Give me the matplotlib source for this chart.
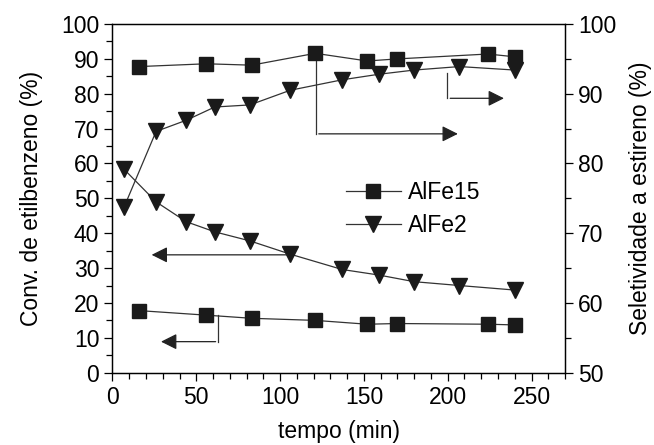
import matplotlib
matplotlib.use("Agg")
import matplotlib.pyplot as plt
from matplotlib.ticker import MultipleLocator

plt.rcParams["font.family"] = ["Liberation Sans", "DejaVu Sans"]

# AlFe15 (squares)
t_alfe15 = [16, 56, 83, 121, 152, 170, 224, 240]
conv_alfe15 = [17.8, 16.5, 15.6, 15.0, 13.9, 14.1, 13.9, 13.7]
sel_alfe15 = [93.9, 94.3, 94.1, 95.8, 94.7, 95.0, 95.7, 95.3]

# AlFe2 (triangles)
t_alfe2 = [7, 26, 44, 61, 82, 106, 137, 159, 180, 207, 240]
conv_alfe2 = [58.3, 49.0, 43.3, 40.4, 37.8, 34.0, 29.6, 28.0, 26.1, 25.0, 23.7]
sel_alfe2 = [73.8, 84.6, 86.2, 88.1, 88.4, 90.5, 92.0, 92.8, 93.4, 93.9, 93.4]

fig = plt.figure(figsize=(6.54, 4.45), dpi=100)
ax = fig.add_axes([0.172, 0.1625, 0.692, 0.7835])
ax2 = ax.twinx()

line_kw = dict(color="#333333", linewidth=0.9, markerfacecolor="#1a1a1a",
               markeredgecolor="#1a1a1a")
ax.plot(t_alfe15, conv_alfe15, marker="s", markersize=10, **line_kw)
ax.plot(t_alfe2, conv_alfe2, marker="v", markersize=12, **line_kw)
ax2.plot(t_alfe15, sel_alfe15, marker="s", markersize=10, label="AlFe15", **line_kw)
ax2.plot(t_alfe2, sel_alfe2, marker="v", markersize=12, label="AlFe2", **line_kw)

ax.set_xlim(0, 270)
ax.set_ylim(0, 100)
ax2.set_ylim(50, 100)

ax.xaxis.set_major_locator(MultipleLocator(50))
ax.xaxis.set_minor_locator(MultipleLocator(10))
ax.yaxis.set_major_locator(MultipleLocator(10))
ax.yaxis.set_minor_locator(MultipleLocator(5))
ax2.yaxis.set_major_locator(MultipleLocator(10))
ax2.yaxis.set_minor_locator(MultipleLocator(5))

for a in (ax, ax2):
    a.tick_params(which="both", direction="out", labelsize=16.5, width=0.9)
    a.tick_params(which="major", length=6)
    a.tick_params(which="minor", length=4)
    for s in a.spines.values():
        s.set_linewidth(0.9)

ax.set_xlabel("tempo (min)", fontsize=16.5, labelpad=8)
ax.set_ylabel("Conv. de etilbenzeno (%)", fontsize=16.5, labelpad=13)
ax2.set_ylabel("Seletividade a estireno (%)", fontsize=16.5, labelpad=9)

# arrows pointing to the axis each curve belongs to
arrow_kw = dict(arrowstyle="-|>", color="#222222", lw=0.9, mutation_scale=24)
ax.plot([121.4, 121.4], [91.6, 68.5], color="#333333", lw=0.9)
ax.annotate("", xy=(207.7, 68.5), xytext=(121.4, 68.5), arrowprops=arrow_kw)
ax.plot([199.8, 199.8], [86.0, 78.7], color="#333333", lw=0.9)
ax.annotate("", xy=(235.2, 78.7), xytext=(199.8, 78.7), arrowprops=arrow_kw)
ax.annotate("", xy=(21.7, 33.8), xytext=(106, 33.8), arrowprops=arrow_kw)
ax.plot([63.2, 63.2], [16.5, 8.9], color="#333333", lw=0.9)
ax.annotate("", xy=(27.3, 8.9), xytext=(63.2, 8.9), arrowprops=arrow_kw)

ax2.legend(loc="upper left", bbox_to_anchor=(0.47, 0.61), frameon=False,
           fontsize=16.5, handlelength=2.4, handletextpad=0.3, labelspacing=0.45)

fig.savefig("out.png", dpi=100)
